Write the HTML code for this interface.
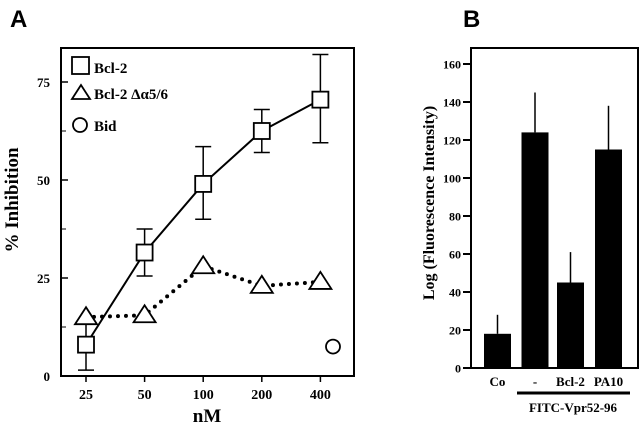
<!DOCTYPE html>
<html><head><meta charset="utf-8"><style>
html,body{margin:0;padding:0;background:#fff;}
svg{display:block;font-family:"Liberation Serif",serif;font-weight:bold;}
</style></head><body>
<svg id="c" width="640" height="425" viewBox="0 0 640 425"></svg>
<script>
const doses=["25","50","100","200","400"];
const bcl2=[8,31.5,49,62.5,70.5];
const bcl2Lo=[1.5,25.5,40,57,59.5];
const bcl2Hi=[14,37.5,58.5,68,82];
const delta=[15,15.5,28,23,24];
const bidVal=[7.5];
const aTicks=[0,25,50,75];
const bCats=["Co","-","Bcl-2","PA10"];
const bVals=[18,124,45,115];
const bErr=[28,145,61,138];
const bTicks=[0,20,40,60,80,100,120,140,160];

const S=document.getElementById('c');const NS='http://www.w3.org/2000/svg';
function mk(t,a,txt){const e=document.createElementNS(NS,t);for(const k in a)e.setAttribute(k,a[k]);if(txt!==undefined)e.textContent=txt;S.appendChild(e);return e;}
// Panel A
const ax=i=>86+i*58.6, ay=v=>376-v*3.92;
let e;
e=mk('text',{x:10,y:27,'font-family':'Liberation Sans,sans-serif','font-size':24},'A');

e=mk('rect',{x:61,y:48,width:293,height:328,fill:'none',stroke:'#000','stroke-width':2});

aTicks.forEach(t=>{
 e=mk('line',{x1:61,x2:68,y1:ay(t),y2:ay(t),stroke:'#000','stroke-width':1.5});
 
 if(t<75){e=mk('line',{x1:61,x2:66,y1:ay(t+12.5),y2:ay(t+12.5),stroke:'#000','stroke-width':1});
 }
 e=mk('text',{x:50,y:ay(t)+5,'text-anchor':'end','font-size':13},t);
 
});
doses.forEach((d,i)=>{
 e=mk('line',{x1:ax(i),x2:ax(i),y1:376,y2:382,stroke:'#000','stroke-width':1.5});
 
 e=mk('text',{x:ax(i),y:399,'text-anchor':'middle','font-size':14},d);
 
});
e=mk('text',{x:207,y:422,'text-anchor':'middle','font-size':19},'nM');

e=mk('text',{x:0,y:0,'text-anchor':'middle','font-size':19,transform:'translate(18,200) rotate(-90)'},'% Inhibition');

e=mk('polyline',{points:delta.map((v,i)=>ax(i)+','+ay(v)).join(' '),fill:'none',stroke:'#000','stroke-width':4,'stroke-dasharray':'0 8','stroke-linecap':'round'});

e=mk('polyline',{points:bcl2.map((v,i)=>ax(i)+','+ay(v)).join(' '),fill:'none',stroke:'#000','stroke-width':2});

bcl2.forEach((v,i)=>{
 const x=ax(i);
 e=mk('path',{d:`M${x},${ay(bcl2Lo[i])}V${ay(bcl2Hi[i])}M${x-8},${ay(bcl2Lo[i])}h16M${x-8},${ay(bcl2Hi[i])}h16`,stroke:'#000','stroke-width':1.5,fill:'none'});
 
});
delta.forEach((v,i)=>{
 const x=ax(i),y=ay(v);
 e=mk('polygon',{points:`${x},${y-10} ${x-11},${y+7} ${x+11},${y+7}`,fill:'#fff',stroke:'#000','stroke-width':1.8});
 
});
bcl2.forEach((v,i)=>{
 const x=ax(i),y=ay(v);
 e=mk('rect',{x:x-8,y:y-8,width:16,height:16,fill:'#fff',stroke:'#000','stroke-width':1.8});
 
});
e=mk('circle',{cx:333,cy:ay(bidVal[0]),r:7,fill:'#fff',stroke:'#000','stroke-width':1.8});

e=mk('rect',{x:72,y:57,width:17,height:17,fill:'#fff',stroke:'#000','stroke-width':1.8});

e=mk('text',{x:94,y:73,'font-size':15},'Bcl-2');

e=mk('polygon',{points:'81,85 72,99 90,99',fill:'#fff',stroke:'#000','stroke-width':1.8});

e=mk('text',{x:94,y:99,'font-size':15},'Bcl-2 \u0394\u03b15/6');

e=mk('circle',{cx:80,cy:125,r:7,fill:'#fff',stroke:'#000','stroke-width':1.8});

e=mk('text',{x:94,y:131,'font-size':15},'Bid');


// Panel B
const by=v=>368-v*1.9, bx=[497.5,535,570.5,608.5];
e=mk('text',{x:463,y:27,'font-family':'Liberation Sans,sans-serif','font-size':24},'B');

e=mk('rect',{x:471,y:48,width:167,height:320,fill:'none',stroke:'#000','stroke-width':2});

bTicks.forEach(t=>{
 e=mk('line',{x1:463,x2:471,y1:by(t),y2:by(t),stroke:'#000','stroke-width':2});
 
 e=mk('text',{x:461,y:by(t)+4.5,'text-anchor':'end','font-size':12},t);
 
});
e=mk('text',{x:0,y:0,'text-anchor':'middle','font-size':16,transform:'translate(434,203) rotate(-90)'},'Log (Fluorescence Intensity)');

bVals.forEach((v,i)=>{
 e=mk('line',{x1:bx[i],x2:bx[i],y1:by(v),y2:by(bErr[i]),stroke:'#000','stroke-width':1.5});
 
 e=mk('rect',{x:bx[i]-13.5,y:by(v),width:27,height:368-by(v),fill:'#000'});
 
 e=mk('text',{x:bx[i],y:386,'text-anchor':'middle','font-size':13},bCats[i]);
 
});
e=mk('line',{x1:517,x2:630,y1:393,y2:393,stroke:'#000','stroke-width':3});

e=mk('text',{x:573,y:412,'text-anchor':'middle','font-size':13},'FITC-Vpr52-96');

</script>
</body></html>
